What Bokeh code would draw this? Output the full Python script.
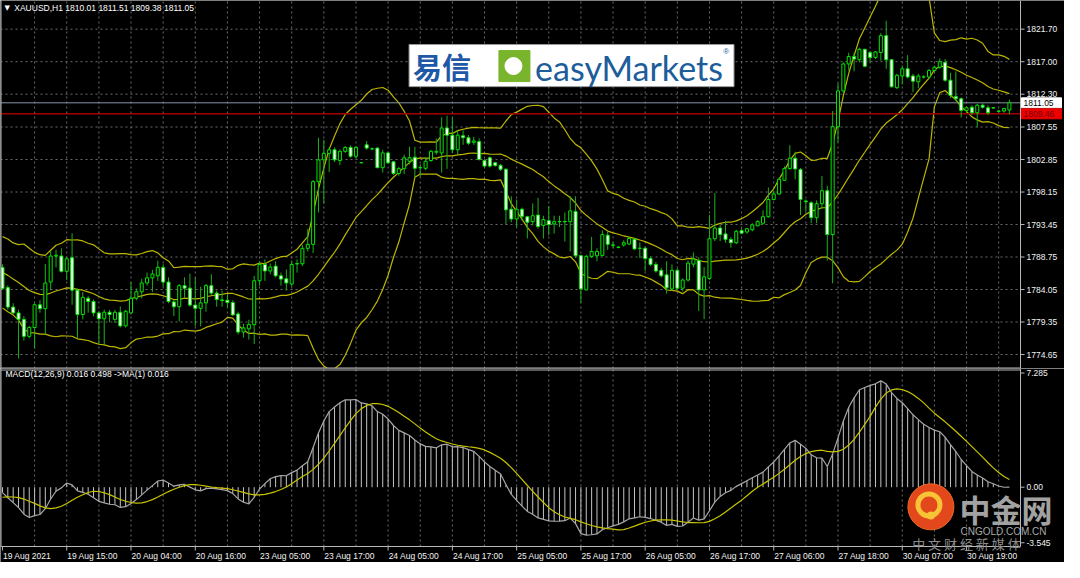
import numpy as np
import pandas as pd
from bokeh.plotting import figure
from bokeh.layouts import column
from bokeh.models import ColumnDataSource, Range1d
from bokeh.core.properties import value
from bokeh.embed import file_html
from bokeh.resources import INLINE

# ---------------- data ----------------
symbol_text = "XAUUSD,H1  1810.01 1811.51 1809.38 1811.05"
macd_text = "MACD(12,26,9) 0.016 0.498  ->MA(1) 0.016"

open_ = [
    1787.25, 1784.33, 1781.51, 1780.67, 1779.73, 1777.28, 1778.55, 1781.84, 1781.28, 1785.13,
    1788.89, 1788.89, 1786.68, 1788.65, 1783.96, 1780.43, 1782.78, 1782.31, 1780.67, 1779.82,
    1780.76, 1779.73, 1780.76, 1778.79, 1780.67, 1782.78, 1783.72, 1784.99, 1785.74, 1786.03,
    1787.25, 1785.13, 1782.26, 1781.56, 1784.61, 1784.24, 1781.80, 1781.33, 1782.12, 1784.61,
    1783.53, 1782.55, 1782.50, 1782.17, 1780.52, 1777.90, 1778.36, 1778.97, 1785.32, 1787.67,
    1786.73, 1787.43, 1786.03, 1785.60, 1784.85, 1787.75, 1787.77, 1790.00, 1790.58, 1799.65,
    1802.80, 1803.74, 1804.26, 1802.71, 1804.03, 1804.60, 1803.32, 1802.40, 1804.97, 1804.40,
    1804.50, 1801.67, 1803.80, 1802.52, 1800.83, 1801.53, 1802.60, 1803.18, 1801.67, 1801.58,
    1802.71, 1803.90, 1803.80, 1807.41, 1806.37, 1804.26, 1806.28, 1806.00, 1805.34, 1805.44,
    1802.71, 1803.10, 1802.38, 1802.00, 1801.44, 1795.66, 1794.25, 1795.66, 1794.58, 1793.87,
    1794.81, 1793.31, 1794.01, 1793.54, 1793.90, 1793.87, 1793.87, 1795.33, 1788.94, 1784.00,
    1788.84, 1788.94, 1788.98, 1791.90, 1790.50, 1790.18, 1790.49, 1790.63, 1791.33, 1790.02,
    1790.02, 1788.52, 1787.67, 1786.82, 1786.17, 1784.14, 1786.83, 1784.24, 1785.42, 1787.72,
    1788.24, 1784.00, 1785.65, 1791.39, 1792.94, 1792.09, 1791.29, 1790.82, 1792.56, 1792.37,
    1792.70, 1793.26, 1793.64, 1794.58, 1797.07, 1797.87, 1799.85, 1801.54, 1803.04, 1801.40,
    1796.85, 1796.60, 1794.44, 1796.46, 1798.34, 1792.00, 1807.60, 1812.77, 1816.67, 1817.75,
    1817.28, 1818.79, 1818.30, 1817.61, 1818.32, 1820.76, 1817.28, 1813.24, 1814.93, 1815.97,
    1814.93, 1814.09, 1814.79, 1814.79, 1815.73, 1816.20, 1816.90, 1814.32, 1811.97, 1811.64,
    1809.95, 1810.42, 1809.62, 1810.70, 1810.33, 1810.33, 1809.86, 1809.86, 1810.01]

high_ = [
    1787.70, 1784.66, 1782.07, 1781.14, 1780.20, 1778.79, 1782.07, 1782.50, 1787.72, 1789.60,
    1789.80, 1790.00, 1788.75, 1792.18, 1784.20, 1783.70, 1783.10, 1782.60, 1780.90, 1781.14,
    1781.10, 1781.10, 1781.60, 1781.10, 1785.13, 1784.20, 1785.60, 1786.50, 1786.90, 1788.20,
    1787.70, 1785.80, 1782.50, 1784.85, 1785.80, 1786.35, 1785.80, 1784.47, 1784.85, 1786.26,
    1783.90, 1783.90, 1783.40, 1782.50, 1780.85, 1779.10, 1779.68, 1786.03, 1788.14, 1788.40,
    1787.80, 1788.14, 1786.50, 1786.96, 1788.23, 1788.40, 1790.50, 1792.84, 1799.90, 1806.00,
    1805.70, 1804.60, 1804.60, 1804.30, 1804.80, 1804.90, 1804.80, 1802.45, 1805.53, 1804.60,
    1804.60, 1804.26, 1804.00, 1802.60, 1801.80, 1803.56, 1804.70, 1804.70, 1802.15, 1803.10,
    1804.26, 1805.90, 1808.96, 1809.20, 1808.96, 1807.08, 1807.08, 1806.40, 1806.14, 1805.90,
    1802.90, 1803.30, 1802.50, 1802.20, 1801.60, 1797.54, 1797.07, 1795.90, 1794.72, 1796.50,
    1797.30, 1794.72, 1796.13, 1794.72, 1794.72, 1795.19, 1797.54, 1797.54, 1789.08, 1789.08,
    1791.66, 1790.02, 1792.60, 1792.37, 1790.96, 1790.30, 1791.19, 1791.66, 1791.52, 1790.86,
    1790.25, 1788.84, 1788.05, 1787.20, 1788.14, 1787.67, 1787.10, 1785.65, 1788.24, 1789.41,
    1788.71, 1787.30, 1794.82, 1798.00, 1793.40, 1793.97, 1791.60, 1792.70, 1792.90, 1792.94,
    1793.64, 1794.10, 1795.50, 1798.80, 1798.34, 1800.22, 1801.87, 1804.92, 1803.98, 1801.63,
    1797.07, 1796.80, 1796.93, 1800.46, 1799.05, 1809.86, 1813.85, 1816.90, 1818.30, 1818.30,
    1819.02, 1818.88, 1818.55, 1818.55, 1821.14, 1822.92, 1817.38, 1815.26, 1816.44, 1817.94,
    1815.26, 1815.26, 1815.03, 1815.97, 1816.44, 1817.47, 1817.38, 1815.40, 1815.60, 1811.83,
    1810.56, 1810.70, 1810.89, 1810.98, 1810.70, 1810.40, 1810.00, 1810.33, 1811.51]

low_ = [
    1783.96, 1781.14, 1780.43, 1774.09, 1776.67, 1777.00, 1775.50, 1780.70, 1777.60, 1783.96,
    1787.25, 1786.50, 1785.40, 1781.84, 1777.00, 1779.73, 1780.70, 1780.20, 1776.20, 1775.97,
    1779.30, 1779.20, 1778.55, 1778.55, 1780.43, 1782.50, 1782.78, 1784.60, 1783.70, 1785.30,
    1784.50, 1782.07, 1780.20, 1779.45, 1782.96, 1781.56, 1778.74, 1778.74, 1780.85, 1783.20,
    1781.56, 1781.56, 1781.46, 1780.24, 1777.56, 1777.10, 1776.80, 1776.15, 1784.60, 1785.30,
    1786.26, 1785.80, 1784.60, 1783.90, 1784.47, 1786.50, 1787.43, 1789.55, 1789.31, 1795.19,
    1796.50, 1801.06, 1802.50, 1802.05, 1803.80, 1803.10, 1803.00, 1802.30, 1804.26, 1804.20,
    1801.60, 1800.97, 1802.20, 1800.60, 1800.50, 1800.74, 1802.15, 1800.26, 1800.36, 1801.30,
    1802.50, 1803.56, 1800.97, 1801.50, 1803.80, 1803.56, 1804.97, 1804.97, 1804.97, 1802.71,
    1801.70, 1801.70, 1801.80, 1801.20, 1793.45, 1793.78, 1793.07, 1794.00, 1791.43, 1793.31,
    1792.84, 1791.43, 1791.90, 1792.13, 1793.07, 1791.00, 1789.55, 1788.61, 1782.12, 1783.90,
    1788.61, 1788.14, 1788.84, 1789.78, 1790.00, 1790.00, 1790.25, 1790.49, 1789.78, 1788.61,
    1786.73, 1787.43, 1786.49, 1785.79, 1783.44, 1783.90, 1784.00, 1783.77, 1785.18, 1787.25,
    1780.95, 1779.78, 1785.42, 1791.05, 1791.05, 1790.82, 1790.10, 1790.60, 1792.10, 1792.10,
    1792.47, 1793.20, 1793.40, 1794.44, 1796.93, 1797.73, 1799.75, 1801.40, 1799.99, 1794.82,
    1795.30, 1793.64, 1793.64, 1795.76, 1788.24, 1784.94, 1805.39, 1812.50, 1815.73, 1815.60,
    1816.90, 1816.20, 1816.90, 1817.38, 1817.14, 1815.97, 1813.24, 1813.05, 1813.71, 1814.56,
    1812.58, 1813.15, 1814.56, 1814.56, 1815.40, 1815.97, 1814.09, 1811.74, 1811.27, 1808.92,
    1809.62, 1809.30, 1807.50, 1810.20, 1809.30, 1810.20, 1809.68, 1809.62, 1809.38]

close_ = [
    1784.19, 1781.51, 1780.67, 1779.73, 1777.28, 1778.55, 1781.84, 1781.28, 1784.99, 1788.89,
    1789.00, 1786.68, 1788.50, 1783.96, 1780.43, 1782.92, 1782.31, 1780.67, 1779.82, 1780.76,
    1780.43, 1780.76, 1778.79, 1780.90, 1782.78, 1783.72, 1784.99, 1785.74, 1786.30, 1787.25,
    1785.13, 1782.31, 1781.56, 1784.61, 1784.24, 1781.80, 1781.33, 1782.12, 1784.61, 1783.53,
    1782.60, 1782.45, 1782.17, 1780.38, 1777.90, 1778.50, 1779.00, 1785.32, 1787.67, 1786.73,
    1787.30, 1786.03, 1785.56, 1785.00, 1787.67, 1787.80, 1790.00, 1790.58, 1799.65, 1802.80,
    1803.74, 1804.26, 1802.80, 1804.03, 1804.60, 1803.32, 1804.60, 1802.38, 1804.50, 1804.40,
    1801.67, 1803.80, 1802.38, 1800.83, 1801.53, 1803.10, 1803.10, 1801.58, 1801.67, 1802.60,
    1804.03, 1804.03, 1807.41, 1806.37, 1804.26, 1806.37, 1806.00, 1805.20, 1805.53, 1802.85,
    1801.90, 1801.90, 1802.00, 1801.44, 1795.57, 1794.25, 1795.66, 1794.63, 1793.78, 1794.72,
    1793.17, 1794.16, 1793.45, 1793.87, 1793.85, 1793.85, 1795.42, 1788.94, 1784.14, 1788.84,
    1789.55, 1789.55, 1791.99, 1790.58, 1790.45, 1790.14, 1790.82, 1791.43, 1789.92, 1790.00,
    1788.52, 1787.67, 1786.73, 1786.03, 1784.29, 1786.82, 1784.24, 1785.42, 1787.86, 1788.47,
    1784.00, 1785.89, 1791.39, 1792.94, 1792.00, 1791.29, 1790.82, 1792.47, 1792.20, 1792.84,
    1793.40, 1793.87, 1794.58, 1797.07, 1797.87, 1799.99, 1801.54, 1803.04, 1801.49, 1797.07,
    1796.75, 1794.44, 1796.46, 1798.34, 1792.00, 1807.60, 1812.77, 1816.67, 1817.75, 1817.38,
    1818.79, 1816.34, 1817.61, 1818.41, 1820.76, 1817.28, 1813.38, 1815.03, 1815.97, 1814.79,
    1814.18, 1814.93, 1814.79, 1815.73, 1816.20, 1817.00, 1814.32, 1812.11, 1811.64, 1809.95,
    1810.33, 1809.62, 1810.70, 1810.42, 1809.62, 1810.30, 1809.82, 1810.23, 1811.05]

# closes before the first visible bar (estimated, used only to warm up the indicators)
prior_close = [
    1787.9, 1788.6, 1787.2, 1786.4, 1787.5, 1788.9, 1789.7, 1788.3, 1787.0, 1785.8,
    1786.6, 1787.8, 1786.9, 1785.4, 1784.7, 1785.9, 1787.1, 1788.4, 1787.6, 1786.2,
    1785.1, 1786.3, 1787.4, 1786.8, 1785.6, 1786.9, 1788.0, 1787.3, 1786.1, 1786.8,
    1790.5, 1791.2, 1789.6, 1788.9, 1790.1, 1788.2, 1786.5, 1785.8, 1784.1, 1783.0,
    1782.4, 1783.6, 1784.9, 1783.8, 1785.7, 1786.9, 1786.0, 1788.1, 1787.4]

time_tick_bars = [0, 12, 24, 36, 48, 60, 72, 84, 96, 108, 120, 132, 144, 156, 168, 180]
time_tick_labels = ["19 Aug 2021", "19 Aug 15:00", "20 Aug 04:00", "20 Aug 16:00",
                    "23 Aug 05:00", "23 Aug 17:00", "24 Aug 05:00", "24 Aug 17:00",
                    "25 Aug 05:00", "25 Aug 17:00", "26 Aug 05:00", "26 Aug 17:00",
                    "27 Aug 06:00", "27 Aug 18:00", "30 Aug 07:00", "30 Aug 19:00"]
price_ticks = [1821.70, 1817.00, 1812.30, 1807.55, 1802.85, 1798.15,
               1793.45, 1788.75, 1784.05, 1779.35, 1774.65]
price_tick_labels = ["1821.70", "1817.00", "1812.30", "1807.55", "1802.85", "1798.15",
                     "1793.45", "1788.75", "1784.05", "1779.35", "1774.65"]
macd_ticks = [7.285, 0.0, -3.545]
macd_tick_labels = ["7.285", "0.00", "-3.545"]
bid_price = 1811.05
bid_label = "1811.05"
hline_price = 1809.46
hline_label = "1809.46"

# ---------------- indicators ----------------
def ema(a, n):
    k = 2.0 / (n + 1)
    out = np.empty_like(a)
    out[0] = a[0]
    for i in range(1, len(a)):
        out[i] = a[i] * k + out[i - 1] * (1 - k)
    return out

allc = np.array(prior_close + close_, dtype=float)
npre = len(prior_close)
s = pd.Series(allc)
mid = s.rolling(20).mean().values[npre:]
sd = s.rolling(20).std(ddof=0).values[npre:]
upper = mid + 2 * sd
lower = mid - 2 * sd
macd_all = ema(allc, 12) - ema(allc, 26)
signal_all = pd.Series(macd_all).rolling(9).mean().values
macd = macd_all[npre:]
signal = signal_all[npre:]

n = len(close_)
xs = np.arange(n)

# ---------------- layout helpers ----------------
FONT = "Liberation Sans"
W = 1064          # total width
PW = 1020         # plot-area width (rest is the price scale)
H1 = 368          # price pane height
H2M = 178         # MACD pane height
H2 = 194          # MACD figure height incl. time strip

def bx(px):       # reference pixel x -> bar index
    return (px - 2.0) / 5.44

def py(px):       # reference pixel y -> price
    return 1821.70 - (px - 29.3) / 7.065

def my(px):       # reference pixel y -> MACD value
    return (500.7 - px) / 16.2

X0 = bx(0)
KX = (bx(1036) - X0) / PW
def ux(u):        # own pixel x -> data x
    return X0 + u * KX

KY1 = (py(0) - py(376)) / H1
def uy1(v):
    return py(0) - v * KY1

KY2 = (my(378) - my(562)) / H2M
def uy2(v):
    return my(378) - v * KY2

xr = Range1d(X0, ux(W))
GRID_C = "#6c6c6c"
FRAME_C = "#b8b8b8"
TXT_C = "#f2f2f2"

def mkfig(h, yr):
    p = figure(width=W, height=h, x_range=xr, y_range=yr,
               x_axis_location=None, y_axis_location=None, toolbar_location=None,
               output_backend="svg", min_border=0)
    p.background_fill_color = "black"
    p.border_fill_color = "black"
    p.outline_line_color = None
    p.grid.visible = False
    return p

p1 = mkfig(H1, Range1d(uy1(H1), uy1(0)))
p2 = mkfig(H2, Range1d(uy2(H2), uy2(0)))

def txt(p, x, y, t, size="8.5px", color=TXT_C, align="left", font=FONT, style="normal"):
    p.text(x=x, y=y, text=t, text_font=value(font), text_font_size=value(size),
           text_color=color, text_align=align, text_baseline="middle",
           text_font_style=style)

# ---------------- price pane ----------------
vgrid = list(range(6, 190, 6))
p1.segment(x0=vgrid, y0=[uy1(H1)] * len(vgrid), x1=vgrid, y1=[uy1(0)] * len(vgrid),
           line_color=GRID_C, line_dash="2 3", line_width=1)
p1.segment(x0=[ux(0)] * len(price_ticks), y0=price_ticks,
           x1=[ux(PW)] * len(price_ticks), y1=price_ticks,
           line_color=GRID_C, line_dash="2 3", line_width=1)

o = np.array(open_); h = np.array(high_); l = np.array(low_); c = np.array(close_)
src = ColumnDataSource(dict(
    x=xs, h=h, l=l, top=np.maximum(o, c), bot=np.minimum(o, c),
    fill=["white" if cc < oo else "black" for oo, cc in zip(o, c)]))

band_c = "#bcb600"
p1.line(xs, upper, line_color=band_c, line_width=1.2)
p1.line(xs, mid, line_color=band_c, line_width=1.2)
p1.line(xs, lower, line_color=band_c, line_width=1.2)

p1.segment(x0=[ux(0)], y0=[bid_price], x1=[ux(PW)], y1=[bid_price],
           line_color="#8795a8", line_width=1)
p1.segment(x0=[ux(0)], y0=[hline_price], x1=[ux(PW)], y1=[hline_price],
           line_color="#a00000", line_width=1.5)

p1.segment(x0="x", y0="l", x1="x", y1="h", source=src, line_color="#1cb01c", line_width=1)
p1.vbar(x="x", top="top", bottom="bot", width=0.56, fill_color="fill",
        line_color="#00e600", line_width=1, source=src)

# frame of the price pane
p1.segment(x0=[ux(0.5), ux(PW)], y0=[uy1(0), uy1(0)], x1=[ux(0.5), ux(PW)], y1=[uy1(H1), uy1(H1)],
           line_color=FRAME_C, line_width=1)
p1.segment(x0=[ux(0)], y0=[uy1(H1 - 0.5)], x1=[ux(PW)], y1=[uy1(H1 - 0.5)],
           line_color=FRAME_C, line_width=1)

# price scale
p1.segment(x0=[ux(PW)] * len(price_ticks), y0=price_ticks,
           x1=[ux(PW + 4)] * len(price_ticks), y1=price_ticks,
           line_color=FRAME_C, line_width=1)
txt(p1, [ux(PW + 6)] * len(price_ticks), price_ticks, price_tick_labels)

# price tags
p1.rect(x=[ux(PW + 21)], y=[bid_price], width=40, height=10, width_units="screen",
        height_units="screen", fill_color="white", line_color="white")
txt(p1, [ux(PW + 3)], [bid_price], [bid_label], color="black")
p1.rect(x=[ux(PW + 21)], y=[hline_price], width=40, height=10, width_units="screen",
        height_units="screen", fill_color="#ee0000", line_color="#ee0000")
txt(p1, [ux(PW + 3)], [hline_price], [hline_label], color="#700000")

# header
txt(p1, [bx(4)], [py(8)], ["\u25bc"], size="7px", color="white", font="DejaVu Sans")
txt(p1, [bx(14)], [py(8)], [symbol_text], color="white")

# easyMarkets logo
p1.quad(left=[bx(415)], right=[bx(745)], top=[py(45)], bottom=[py(88)],
        fill_color="white", line_color="#9a9a9a", line_width=1)
txt(p1, [bx(419)], [py(67)], ["易信"], size="29px", color="#1f58a6",
    font="Noto Sans CJK SC", style="bold")
p1.scatter([bx(522)], [py(67)], marker="square", size=31, fill_color="#79b52c",
           line_color="#79b52c")
p1.scatter([bx(521)], [py(67)], marker="circle", size=17, fill_color="white",
           line_color="white")
txt(p1, [bx(543)], [py(68)], ["easyMarkets"], size="34px", color="#1d5d99", font="Lato")
txt(p1, [bx(734)], [py(52)], ["®"], size="8px", color="#1d5d99")

# ---------------- MACD pane ----------------
p2.segment(x0=vgrid, y0=[uy2(H2M)] * len(vgrid), x1=vgrid, y1=[uy2(0)] * len(vgrid),
           line_color=GRID_C, line_dash="2 3", line_width=1)

p2.segment(x0=xs, y0=np.zeros(n), x1=xs, y1=macd, line_color="#c4c4c4", line_width=1)
p2.line(xs, macd, line_color="#a6a6a6", line_width=1.2)
p2.line(xs, signal, line_color="#c8c400", line_width=1.2)

# frame of the MACD pane
p2.segment(x0=[ux(0.5), ux(PW)], y0=[uy2(0), uy2(0)], x1=[ux(0.5), ux(PW)], y1=[uy2(H2M), uy2(H2M)],
           line_color=FRAME_C, line_width=1)
p2.segment(x0=[ux(0), ux(0)], y0=[uy2(1.5), uy2(H2M)], x1=[ux(PW), ux(PW)], y1=[uy2(1.5), uy2(H2M)],
           line_color=FRAME_C, line_width=1)

# MACD scale
p2.segment(x0=[ux(PW)] * len(macd_ticks), y0=macd_ticks,
           x1=[ux(PW + 4)] * len(macd_ticks), y1=macd_ticks,
           line_color=FRAME_C, line_width=1)
txt(p2, [ux(PW + 6)] * len(macd_ticks), macd_ticks, macd_tick_labels)

txt(p2, [bx(5)], [my(384)], [macd_text], color="white")

# time axis
p2.segment(x0=time_tick_bars, y0=[uy2(H2M)] * len(time_tick_bars),
           x1=time_tick_bars, y1=[uy2(H2M + 4)] * len(time_tick_bars),
           line_color=FRAME_C, line_width=1)
txt(p2, [t + 0.1 for t in time_tick_bars], [uy2(H2M + 9)] * len(time_tick_bars),
    time_tick_labels)

# watermark (cngold)
p2.scatter([bx(945)], [my(521)], marker="circle", size=46, fill_color="#e2481c",
           line_color="#ef6a24", line_width=1)
p2.scatter([bx(943)], [my(519)], marker="circle", size=22, fill_color=None,
           line_color="#f7c438", line_width=5)
p2.scatter([bx(945)], [my(530)], marker="circle", size=8, fill_color="#f7c438",
           line_color=None)
txt(p2, [bx(974)], [my(523)], ["中金网"], size="31px", color="#a2a2a2",
    font="Noto Sans CJK SC", style="bold")
txt(p2, [bx(975)], [my(546)], ["CNGOLD.COM.CN"], size="10px", color="#a8a8a8")
txt(p2, [bx(926)], [my(559)], ["中  文  财  经  新  媒  体"], size="13px",
    color="#8c8c8c", font="Noto Sans CJK SC")

layout = column(p1, p2, spacing=0)
open("out.html", "w").write(file_html(layout, INLINE))
